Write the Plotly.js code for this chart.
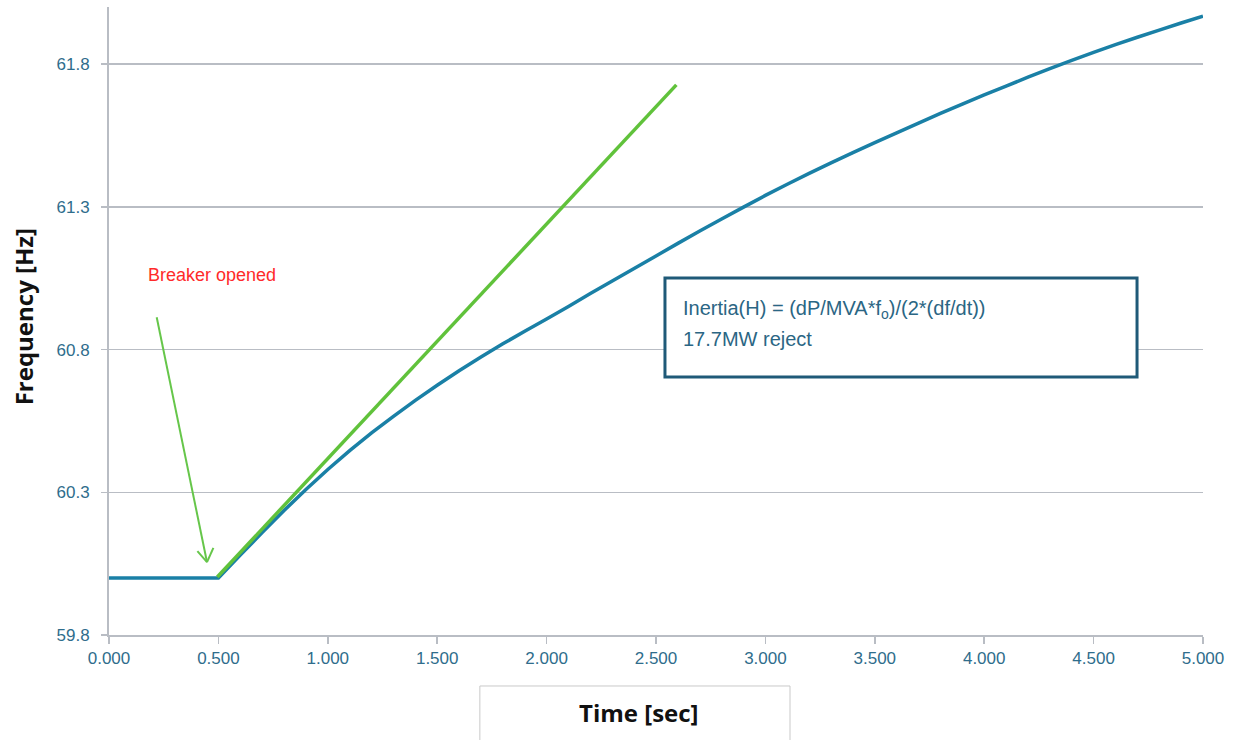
<!DOCTYPE html>
<html>
<head>
<meta charset="utf-8">
<script src="https://cdn.plot.ly/plotly-3.0.1.min.js"></script>
<style>
  html, body { margin: 0; padding: 0; background: #ffffff; }
  #chart { width: 1236px; height: 740px; }
</style>
</head>
<body>
<div id="chart"></div>
<script>
// Measured generator frequency after the breaker opens (load rejection test)
const timeSec = [0.0, 0.1, 0.2, 0.3, 0.4, 0.5, 0.6, 0.7, 0.8, 0.9,
                 1.0, 1.1, 1.2, 1.3, 1.4, 1.5, 1.6, 1.7, 1.8, 1.9,
                 2.0, 2.1, 2.2, 2.3, 2.4, 2.5, 2.6, 2.7, 2.8, 2.9,
                 3.0, 3.1, 3.2, 3.3, 3.4, 3.5, 3.6, 3.7, 3.8, 3.9,
                 4.0, 4.1, 4.2, 4.3, 4.4, 4.5, 4.6, 4.7, 4.8, 4.9, 5.0];
const freqHz = [60.000, 60.000, 60.000, 60.000, 60.000, 60.000, 60.080, 60.159, 60.236, 60.310,
                60.380, 60.446, 60.508, 60.566, 60.622, 60.675, 60.726, 60.774, 60.820, 60.864,
                60.907, 60.951, 60.996, 61.040, 61.084, 61.128, 61.172, 61.215, 61.257, 61.299,
                61.340, 61.379, 61.417, 61.454, 61.490, 61.525, 61.559, 61.593, 61.627, 61.660,
                61.692, 61.723, 61.754, 61.784, 61.813, 61.841, 61.868, 61.894, 61.919, 61.944, 61.968];

// Initial df/dt tangent drawn from the breaker-open instant
const tangentTime = [0.495, 2.593];
const tangentFreq = [60.003, 61.727];

// Arrow pointing at the breaker-open instant: tail, head and the two barbs
const arrowTail = [0.218, 60.913];
const arrowHead = [0.448, 60.055];
const barbLeft = [0.404, 60.094];
const barbRight = [0.477, 60.105];

const tickText = '#2f6d8c';
const gridGray = '#b9bdc4';
const arrowGreen = '#66c64a';

const traces = [
  {
    x: timeSec, y: freqHz, type: 'scatter', mode: 'lines',
    line: { color: '#1a80a6', width: 3.5, simplify: false },
    hoverinfo: 'x+y'
  },
  {
    x: tangentTime, y: tangentFreq, type: 'scatter', mode: 'lines',
    line: { color: '#60c23b', width: 3.5 },
    hoverinfo: 'x+y'
  }
];

function arrowSegment(from, to) {
  return {
    type: 'line', xref: 'x', yref: 'y',
    x0: from[0], y0: from[1], x1: to[0], y1: to[1],
    line: { color: arrowGreen, width: 2 }
  };
}

const layout = {
  width: 1236, height: 740,
  margin: { l: 109, r: 33, t: 7, b: 105 },
  paper_bgcolor: '#ffffff', plot_bgcolor: '#ffffff',
  showlegend: false,
  font: { family: 'Liberation Sans, Arial, sans-serif' },
  xaxis: {
    range: [0, 5], tick0: 0, dtick: 0.5, tickformat: '.3f',
    showgrid: false, zeroline: false,
    showline: true, linecolor: gridGray, linewidth: 2,
    ticks: 'outside', ticklen: 7, tickwidth: 1.5, tickcolor: gridGray,
    tickfont: { size: 17, color: tickText }
  },
  yaxis: {
    range: [59.8, 62.0], tick0: 59.8, dtick: 0.5, tickformat: '.1f',
    showgrid: true, gridcolor: gridGray, gridwidth: 1.5, zeroline: false,
    showline: true, linecolor: gridGray, linewidth: 2,
    ticks: 'outside', ticklen: 6, tickwidth: 1.5, tickcolor: gridGray,
    ticklabelstandoff: 8,
    tickfont: { size: 17, color: tickText }
  },
  shapes: [
    // frame round the time axis title
    { type: 'rect', xref: 'paper', yref: 'paper',
      x0: 0.339, x1: 0.6225, y0: -0.19, y1: -0.0812,
      line: { color: '#c9c9c9', width: 1 }, fillcolor: 'rgba(0,0,0,0)' },
    // inertia formula box
    { type: 'rect', xref: 'paper', yref: 'paper',
      x0: 0.5082, x1: 0.9397, y0: 0.4108, y1: 0.5685,
      line: { color: '#1f5a78', width: 3 }, fillcolor: '#ffffff' },
    arrowSegment(arrowTail, arrowHead),
    arrowSegment(barbLeft, arrowHead),
    arrowSegment(barbRight, arrowHead)
  ],
  annotations: [
    { text: '<b>Time [sec]</b>', xref: 'paper', yref: 'paper',
      x: 0.4845, y: -0.124, xanchor: 'center', yanchor: 'middle', showarrow: false,
      font: { family: 'Open Sans, Liberation Sans, sans-serif', size: 24, color: '#111111' } },
    { text: '<b>Frequency [Hz]</b>', xref: 'paper', yref: 'paper',
      x: -0.0785, y: 0.506, xanchor: 'center', yanchor: 'middle', showarrow: false,
      textangle: -90,
      font: { family: 'Open Sans, Liberation Sans, sans-serif', size: 24, color: '#111111' } },
    { text: 'Breaker opened', xref: 'paper', yref: 'paper',
      x: 0.0941, y: 0.5732, xanchor: 'center', yanchor: 'middle', showarrow: false,
      font: { size: 18, color: '#ff2a2a' } },
    { text: 'Inertia(H) = (dP/MVA*f<sub>o</sub>)/(2*(df/dt))', xref: 'paper', yref: 'paper',
      x: 0.5225, y: 0.5191, xanchor: 'left', yanchor: 'middle', showarrow: false,
      font: { size: 20, color: '#2b6684' } },
    { text: '17.7MW reject', xref: 'paper', yref: 'paper',
      x: 0.5225, y: 0.4713, xanchor: 'left', yanchor: 'middle', showarrow: false,
      font: { size: 20, color: '#2b6684' } }
  ]
};

Plotly.newPlot('chart', traces, layout, { displayModeBar: false, staticPlot: true });
</script>
</body>
</html>
